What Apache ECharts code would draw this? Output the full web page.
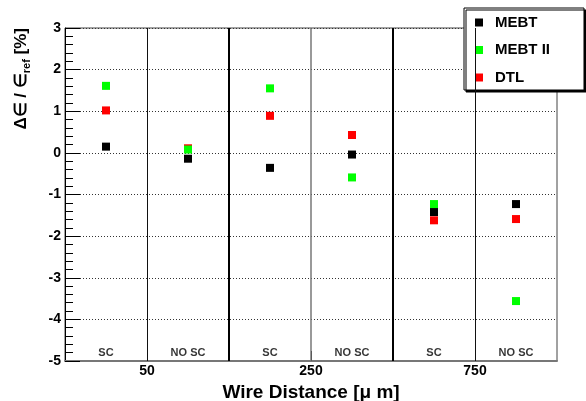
<!DOCTYPE html>
<html>
<head>
<meta charset="utf-8">
<script src="https://cdn.jsdelivr.net/npm/echarts@6/dist/echarts.min.js"></script>
<style>
  html, body { margin: 0; padding: 0; background: #fff; }
  #chart { width: 586px; height: 401px; }
</style>
</head>
<body>
<div id="chart"></div>
<script>
  // column labels (space charge on / off), one per column
  var columns = ['SC', 'NO SC', 'SC', 'NO SC', 'SC', 'NO SC']
  // wire distance labels sit on the boundary between SC / NO SC
  var distanceTicks = { 1: '50', 3: '250', 5: '750' }

  var mebt = [0.15, -0.14, -0.36, -0.04, -1.42, -1.23]
  var mebt2 = [1.61, 0.08, 1.55, -0.59, -1.23, -3.56]
  var dtl = [1.02, 0.11, 0.89, 0.43, -1.62, -1.59]

  var FONT = "'Liberation Sans', Arial, sans-serif"

  function toPoints (values) {
    return values.map(function (v, i) { return [i + 0.5, v] })
  }

  var chart = echarts.init(document.getElementById('chart'))

  var option = {
    animation: false,
    textStyle: { fontFamily: FONT },
    grid: {
      left: 65, right: 29, top: 28, bottom: 40,
      outerBoundsMode: 'none',
      containLabel: false,
      show: true, borderColor: '#444', borderWidth: 1
    },
    legend: {
      orient: 'vertical',
      left: 464, top: 8,
      data: ['MEBT', 'MEBT II', 'DTL'],
      icon: 'rect',
      itemWidth: 8, itemHeight: 8,
      itemGap: 12.5,
      padding: [7, 34, 5, 11],
      backgroundColor: '#fff',
      borderColor: '#000', borderWidth: 1,
      shadowColor: '#000', shadowOffsetX: 2, shadowOffsetY: 2, shadowBlur: 0,
      selectedMode: false,
      itemStyle: { opacity: 1 },
      textStyle: {
        fontFamily: FONT, fontWeight: 'bold', fontSize: 15, color: '#000',
        padding: [0, 0, 0, 7]
      }
    },
    xAxis: {
      type: 'value',
      min: 0, max: 6, interval: 1,
      name: 'Wire Distance [μ m]',
      nameLocation: 'middle',
      nameGap: 17,
      nameTextStyle: { fontFamily: FONT, fontWeight: 'bold', fontSize: 19, color: '#000' },
      axisLine: { onZero: false, lineStyle: { color: '#777', width: 2 } },
      axisTick: { show: true, inside: true, length: 10, customValues: [1, 3, 5], lineStyle: { color: '#000' } },
      axisLabel: {
        customValues: [1, 3, 5],
        margin: 3,
        fontFamily: FONT, fontWeight: 'bold', fontSize: 14, color: '#000',
        formatter: function (v) { return distanceTicks[v] || '' }
      },
      splitLine: { show: false }
    },
    yAxis: {
      type: 'value',
      min: -5, max: 3, interval: 1,
      axisLine: { show: true, onZero: false, lineStyle: { color: '#000', width: 1 } },
      axisTick: { show: true, inside: true, length: 15, lineStyle: { color: '#000' } },
      minorTick: { show: true, splitNumber: 5, length: 8, lineStyle: { color: '#000' } },
      axisLabel: {
        margin: 4,
        fontFamily: FONT, fontWeight: 'bold', fontSize: 14, color: '#000'
      },
      splitLine: { show: true, lineStyle: { color: '#333', type: [1, 2], width: 1 } }
    },
    graphic: [{
      type: 'text',
      x: 21, y: 28,
      rotation: Math.PI / 2,
      style: {
        text: '{a|Δ∈ / ∈}{s|ref}{a| [%]}',
        align: 'right',
        verticalAlign: 'middle',
        rich: {
          a: { fontFamily: FONT, fontWeight: 'bold', fontSize: 17, lineHeight: 22, fill: '#000' },
          s: { fontFamily: FONT, fontWeight: 'bold', fontSize: 11, lineHeight: 11, verticalAlign: 'bottom', fill: '#000' }
        }
      }
    }],
    series: [
      {
        name: 'MEBT',
        type: 'scatter',
        symbol: 'rect', symbolSize: 8,
        itemStyle: { color: '#000', opacity: 1 },
        z: 3,
        data: toPoints(mebt),
        markLine: {
          silent: true,
          symbol: 'none',
          label: { show: false },
          data: [
            { xAxis: 1, lineStyle: { color: '#111', width: 1, type: 'solid' } },
            { xAxis: 2, lineStyle: { color: '#000', width: 2, type: 'solid' } },
            { xAxis: 3, lineStyle: { color: '#777', width: 1.5, type: 'solid' } },
            { xAxis: 4, lineStyle: { color: '#000', width: 2, type: 'solid' } },
            { xAxis: 5, lineStyle: { color: '#111', width: 1, type: 'solid' } }
          ]
        }
      },
      {
        name: 'DTL',
        type: 'scatter',
        symbol: 'rect', symbolSize: 8,
        itemStyle: { color: '#ff0000', opacity: 1 },
        z: 4,
        data: toPoints(dtl)
      },
      {
        name: 'MEBT II',
        type: 'scatter',
        symbol: 'rect', symbolSize: 8,
        itemStyle: { color: '#00ff00', opacity: 1 },
        z: 5,
        data: toPoints(mebt2)
      },
      {
        name: 'columns',
        type: 'scatter',
        symbolSize: 0,
        silent: true,
        data: columns.map(function (c, i) { return { value: [i + 0.5, -4.8], name: c } }),
        label: {
          show: true,
          position: 'inside',
          formatter: function (p) { return p.name },
          fontFamily: FONT, fontWeight: 'bold', fontSize: 11, color: '#000'
        }
      }
    ]
  }

  chart.setOption(option)
</script>
</body>
</html>
